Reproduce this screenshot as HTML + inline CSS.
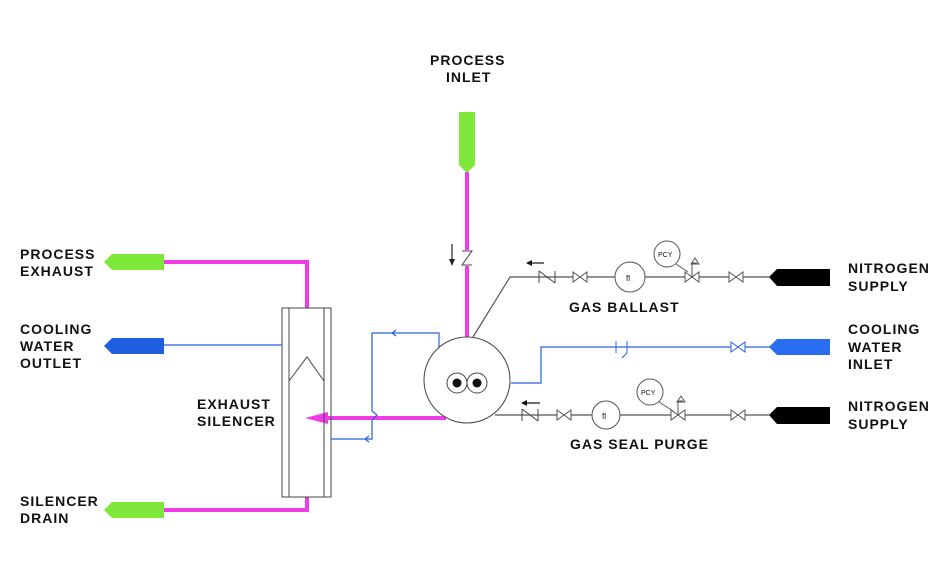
<!DOCTYPE html>
<html><head><meta charset="utf-8"><style>
html,body{margin:0;padding:0;background:#fff}
svg{display:block}
text{font-family:"Liberation Sans",sans-serif;font-weight:bold;font-size:14px;fill:#111;letter-spacing:1px}
</style></head><body>
<svg width="940" height="571" viewBox="0 0 940 571" xmlns="http://www.w3.org/2000/svg">
<defs>
<g id="gv"><polygon points="-7,-5 7,5 7,-5 -7,5" fill="#fff" stroke="#555" stroke-width="1"/></g>
<g id="ck"><path d="M-8,-6 V6 M-8,-6 L8,6 M8,-6 V6" fill="none" stroke="#444" stroke-width="1"/></g>
</defs>
<text x="430" y="65">PROCESS</text><text x="446" y="82">INLET</text>
<text x="20" y="259">PROCESS</text><text x="20" y="276">EXHAUST</text>
<text x="20" y="334">COOLING</text><text x="20" y="351">WATER</text><text x="20" y="368">OUTLET</text>
<text x="197" y="409">EXHAUST</text><text x="197" y="426">SILENCER</text>
<text x="20" y="506">SILENCER</text><text x="20" y="523">DRAIN</text>
<text x="848" y="273">NITROGEN</text><text x="848" y="291">SUPPLY</text>
<text x="848" y="334">COOLING</text><text x="848" y="352">WATER</text><text x="848" y="369">INLET</text>
<text x="848" y="411">NITROGEN</text><text x="848" y="429">SUPPLY</text>
<text x="569" y="312">GAS BALLAST</text>
<text x="570" y="449">GAS SEAL PURGE</text>
<polygon points="459,112 475,112 475,165 467,173 459,165" fill="#7ee83a"/>
<polygon points="104,262 112,254 164,254 164,270 112,270" fill="#7ee83a"/>
<polygon points="104,510 112,502 164,502 164,518 112,518" fill="#7ee83a"/>
<polygon points="104,346 112,338 164,338 164,354 112,354" fill="#1f5fe0"/>
<polygon points="769,277 777,269 830,269 830,286 777,286" fill="#000"/>
<polygon points="769,347 777,339 830,339 830,355 777,355" fill="#2a6ef0"/>
<polygon points="769,415 777,407 830,407 830,424 777,424" fill="#000"/>
<g stroke="#f03ce8" stroke-width="4" fill="none">
<path d="M467,172 V250 M467,266 V337"/>
<path d="M164,262 H307 V308"/>
<path d="M164,510 H307 V497"/>
<path d="M446,418 H325"/>
</g>
<polygon points="305,418 328,412 328,424" fill="#f03ce8"/>
<path d="M462,251 H472 L462,265 H472" fill="none" stroke="#444" stroke-width="1"/>
<path d="M452,244 V262" stroke="#222" stroke-width="1.2"/><polygon points="449,259 455,259 452,266" fill="#222"/>
<rect x="282" y="308" width="49" height="189" fill="none" stroke="#444" stroke-width="1"/>
<path d="M289,308 V497 M324,308 V497 M289,381 L307,357 L324,381" fill="none" stroke="#444" stroke-width="1"/>
<g stroke="#2a5fe0" stroke-width="1.2" fill="none">
<path d="M164,345 H282"/>
<path d="M439,348 V333 H372 V411 L377,415 L372,420 V439 H331"/>
<path d="M511,383 H541 V347 H770"/>
<path d="M396,330 L392,333 L396,336 M369,436 L365,439 L369,442"/>
</g>
<path d="M616,341 V353 M627,341 V353 M627,353 L622,358" stroke="#2a5fe0" stroke-width="1" fill="none"/>
<polygon points="731,342 745,352 745,342 731,352" fill="#fff" stroke="#2a5fe0" stroke-width="1"/>
<g stroke="#555" stroke-width="1.2" fill="none">
<path d="M473,337 L510,277 H770"/>
<path d="M495,415 H770"/>
</g>
<circle cx="467" cy="380" r="43" fill="#fff" stroke="#444" stroke-width="1"/>
<circle cx="457" cy="383" r="10" fill="#fff" stroke="#444"/><circle cx="457" cy="383" r="4.5" fill="#111"/>
<circle cx="477" cy="383" r="10" fill="#fff" stroke="#444"/><circle cx="477" cy="383" r="4.5" fill="#111"/>
<use href="#ck" x="547" y="277"/><use href="#gv" x="580" y="277"/>
<circle cx="630" cy="277" r="15" fill="#fff" stroke="#555"/><text x="626" y="281" style="font-size:8px;font-weight:normal;letter-spacing:0">fl</text>
<use href="#gv" x="692" y="277"/><use href="#gv" x="736" y="277"/>
<circle cx="667" cy="254" r="13" fill="#fff" stroke="#555"/><text x="658" y="257" style="font-size:7px;font-weight:normal;letter-spacing:0">PCY</text>
<path d="M676,264 L688,272 M692,277 V263 H697 M695,258 L699,264 H691 Z" fill="#fff" stroke="#555"/>
<path d="M544,263 H528" stroke="#111" stroke-width="1.2"/><polygon points="526,263 532,260 532,266" fill="#111"/>
<use href="#ck" x="530" y="415"/><use href="#gv" x="564" y="415"/>
<circle cx="606" cy="415" r="14" fill="#fff" stroke="#555"/><text x="602" y="419" style="font-size:8px;font-weight:normal;letter-spacing:0">fl</text>
<use href="#gv" x="678" y="415"/><use href="#gv" x="738" y="415"/>
<circle cx="650" cy="392" r="13" fill="#fff" stroke="#555"/><text x="641" y="395" style="font-size:7px;font-weight:normal;letter-spacing:0">PCY</text>
<path d="M659,402 L673,411 M678,415 V401 H683 M681,396 L685,402 H677 Z" fill="#fff" stroke="#555"/>
<path d="M540,403 H524" stroke="#111" stroke-width="1.2"/><polygon points="521,403 527,400 527,406" fill="#111"/>
</svg>
</body></html>
